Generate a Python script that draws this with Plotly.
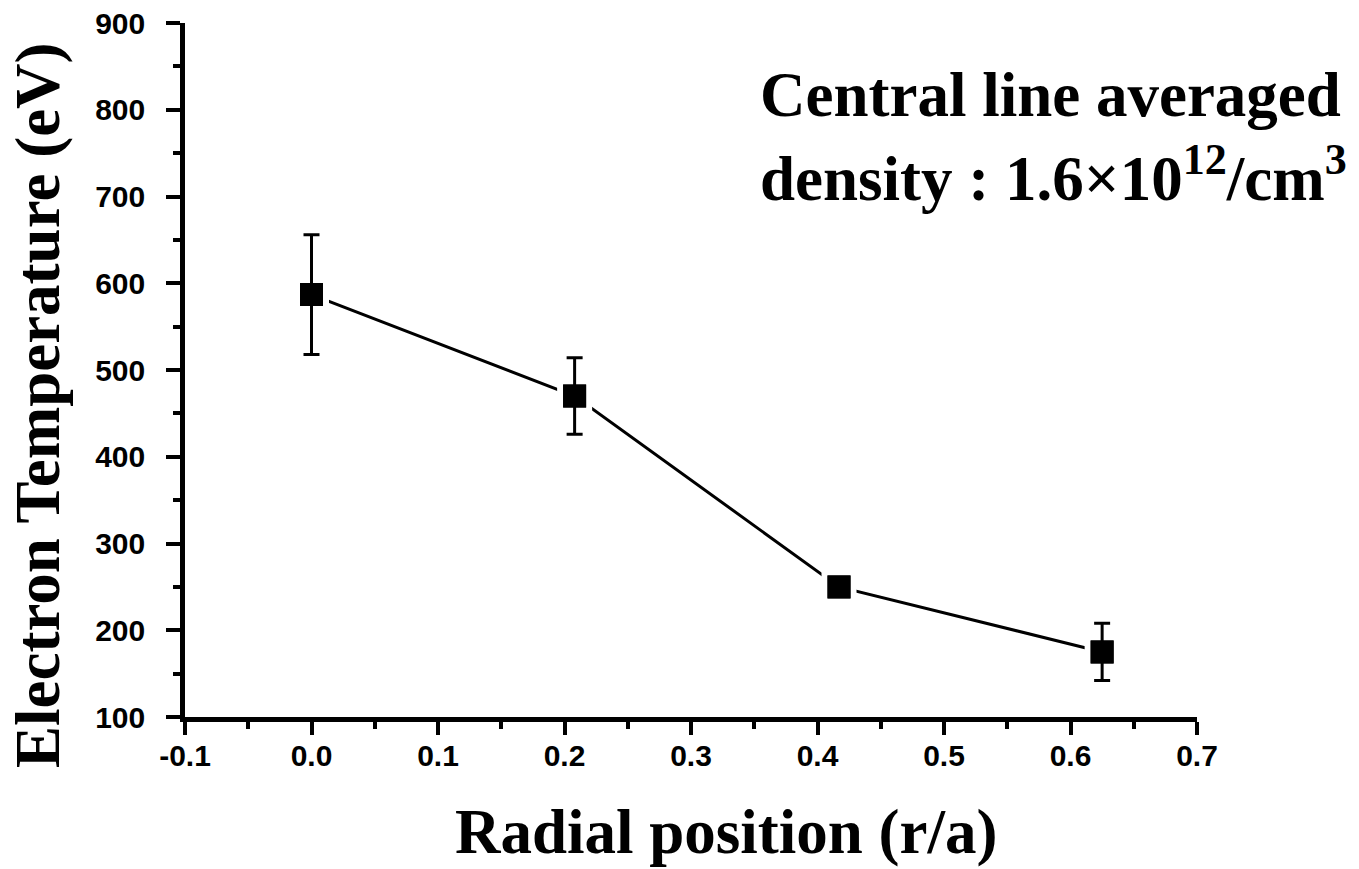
import plotly.graph_objects as go

radial_position = [0.0, 0.208, 0.417, 0.625]
electron_temp = [587, 470, 250, 175]
temp_error = [69, 44, 0, 33]

x_ticks = [-0.1, 0.0, 0.1, 0.2, 0.3, 0.4, 0.5, 0.6, 0.7]
x_tick_labels = ["-0.1", "0.0", "0.1", "0.2", "0.3", "0.4", "0.5", "0.6", "0.7"]
y_ticks = [100, 200, 300, 400, 500, 600, 700, 800, 900]
y_tick_labels = [str(v) for v in y_ticks]

fig = go.Figure()
# connecting line
fig.add_trace(go.Scatter(
    x=radial_position, y=electron_temp, mode="lines",
    line=dict(color="black", width=3), showlegend=False, hoverinfo="skip",
))
# square markers with white halo (gap between line and marker)
fig.add_trace(go.Scatter(
    x=radial_position, y=electron_temp, mode="markers",
    marker=dict(symbol="square", size=29, color="black",
                line=dict(color="white", width=6)),
    showlegend=False,
))
# error bars
fig.add_trace(go.Scatter(
    x=radial_position, y=electron_temp, mode="markers",
    marker=dict(symbol="square", size=23, color="black"),
    error_y=dict(type="data", array=temp_error, visible=True,
                 color="black", thickness=3, width=8),
    showlegend=False,
))

tickfont = dict(family="Liberation Sans, Arial", size=30, color="black")
titlefont = dict(family="Liberation Serif, Times New Roman", size=63, color="black")
notefont = dict(family="Liberation Serif, Times New Roman", size=63, color="black")

fig.update_layout(
    width=1359, height=869,
    margin=dict(l=185, r=162, t=23, b=152, autoexpand=False),
    paper_bgcolor="white", plot_bgcolor="white",
    xaxis=dict(
        range=[-0.1, 0.7], tickvals=x_ticks,
        ticktext=["<b>%s</b>" % t for t in x_tick_labels],
        showline=True, linecolor="black", linewidth=4.5,
        ticks="outside", ticklen=13, tickwidth=4, tickcolor="black",
        minor=dict(dtick=0.05, ticks="outside", ticklen=7, tickwidth=4, tickcolor="black"),
        showgrid=False, zeroline=False, automargin=False,
        ticklabelstandoff=-5,
        tickfont=tickfont,
    ),
    yaxis=dict(
        range=[100, 900], tickvals=y_ticks,
        ticktext=["<b>%s</b>" % t for t in y_tick_labels],
        showline=True, linecolor="black", linewidth=4.5,
        ticks="outside", ticklen=14, tickwidth=4, tickcolor="black",
        minor=dict(dtick=50, ticks="outside", ticklen=7, tickwidth=4, tickcolor="black"),
        showgrid=False, zeroline=False, automargin=False,
        ticklabelstandoff=15,
        tickfont=tickfont,
    ),
    annotations=[
        dict(
            x=0.566, y=0.9496, xref="paper", yref="paper", xanchor="left", yanchor="top",
            text="<b>Central line averaged</b>",
            showarrow=False, align="left", font=notefont,
        ),
        dict(
            x=0.566, y=0.8415, xref="paper", yref="paper", xanchor="left", yanchor="top",
            text="<b>density : 1.6×10<sup>12</sup>/cm<sup>3</sup></b>",
            showarrow=False, align="left", font=notefont,
        ),
        dict(
            x=-0.1453, y=0.4496, xref="paper", yref="paper", xanchor="center", yanchor="middle",
            text="<b>Electron Temperature (eV)</b>", textangle=-90,
            showarrow=False, font=titlefont,
        ),
        dict(
            x=0.5346, y=-0.166, xref="paper", yref="paper", xanchor="center", yanchor="middle",
            text="<b>Radial position (r/a)</b>",
            showarrow=False, font=titlefont,
        ),
    ],
)

fig.write_html("out.html")
